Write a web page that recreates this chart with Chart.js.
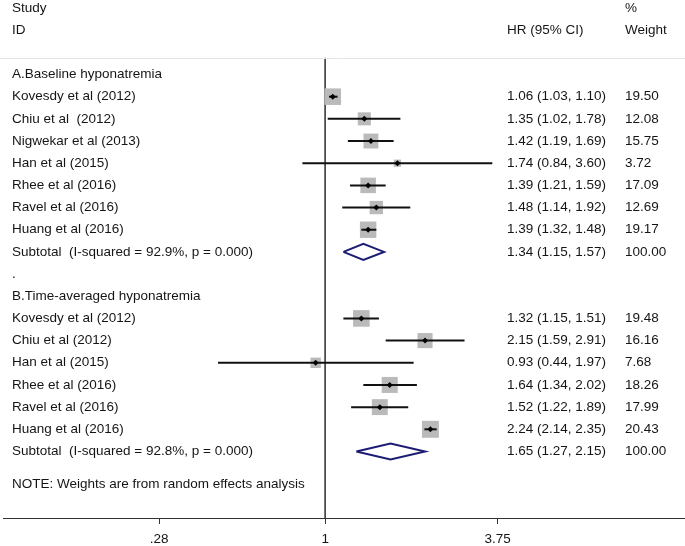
<!DOCTYPE html>
<html>
<head>
<meta charset="utf-8">
<script src="https://cdn.jsdelivr.net/npm/chart.js@4/dist/chart.umd.min.js"></script>
<style>
  html, body { margin: 0; padding: 0; background: #fff; }
  #wrap { width: 685px; height: 546px; }
</style>
</head>
<body>
<div id="wrap"><canvas id="forest"></canvas></div>
<script>
// Study labels, estimates and weights, one entry per row of the plot
const studyLabels = [
    'Kovesdy et al (2012)', 'Chiu et al  (2012)', 'Nigwekar et al (2013)', 'Han et al (2015)',
    'Rhee et al (2016)', 'Ravel et al (2016)', 'Huang et al (2016)',
    'Kovesdy et al (2012)', 'Chiu et al (2012)', 'Han et al (2015)',
    'Rhee et al (2016)', 'Ravel et al (2016)', 'Huang et al (2016)'
];
const studyRows = [4, 5, 6, 7, 8, 9, 10, 14, 15, 16, 17, 18, 19];
const hr = [1.06, 1.35, 1.42, 1.74, 1.39, 1.48, 1.39, 1.32, 2.15, 0.93, 1.64, 1.52, 2.24];
const lower = [1.03, 1.02, 1.19, 0.84, 1.21, 1.14, 1.32, 1.15, 1.59, 0.44, 1.34, 1.22, 2.14];
const upper = [1.10, 1.78, 1.69, 3.60, 1.59, 1.92, 1.48, 1.51, 2.91, 1.97, 2.02, 1.89, 2.35];
const weights = [19.50, 12.08, 15.75, 3.72, 17.09, 12.69, 19.17, 19.48, 16.16, 7.68, 18.26, 17.99, 20.43];

// Subtotals (pooled estimates)
const subtotalLabels = ['Subtotal  (I-squared = 92.9%, p = 0.000)', 'Subtotal  (I-squared = 92.8%, p = 0.000)'];
const subtotalRows = [11, 20];
const subHr = [1.34, 1.65];
const subLower = [1.15, 1.27];
const subUpper = [1.57, 2.15];
const subWeights = [100.00, 100.00];

// Group headings and other text rows
const groupLabels = ['A.Baseline hyponatremia', '.', 'B.Time-averaged hyponatremia', 'NOTE: Weights are from random effects analysis'];
const groupRows = [3, 12, 13, 21.5];

// x axis ticks
const tickValues = [0.28, 1, 3.75];
const tickLabels = ['.28', '1', '3.75'];

const FAMILY = '"Liberation Sans", Arial, sans-serif';
const FONT = '13.5px ' + FAMILY;
const TEXT = '#151515';

const fmt = v => v.toFixed(2);

// Weight-scaled grey boxes
const boxes = {
    type: 'scatter',
    order: 4,
    data: hr.map((v, i) => ({ x: v, y: studyRows[i] })),
    pointStyle: 'rect',
    pointRadius: weights.map(w => 3.75 * Math.sqrt(w) / Math.SQRT2),
    backgroundColor: '#bababa',
    borderWidth: 0,
    clip: false
};

// Confidence interval lines
const ciLines = lower.map((lo, i) => ({
    type: 'scatter',
    order: 3,
    data: [{ x: lo, y: studyRows[i] }, { x: upper[i], y: studyRows[i] }],
    showLine: true,
    borderColor: '#111',
    borderWidth: 2,
    pointRadius: 0,
    clip: false
}));

// Point estimates
const dots = {
    type: 'scatter',
    order: 2,
    data: hr.map((v, i) => ({ x: v, y: studyRows[i] })),
    pointStyle: 'rectRot',
    pointRadius: 3,
    backgroundColor: '#000',
    borderWidth: 0,
    clip: false
};

// Subtotal diamonds
const diamonds = subHr.map((v, i) => ({
    type: 'scatter',
    order: 1,
    data: [
        { x: subLower[i], y: subtotalRows[i] },
        { x: v, y: subtotalRows[i] - 0.36 },
        { x: subUpper[i], y: subtotalRows[i] },
        { x: v, y: subtotalRows[i] + 0.36 },
        { x: subLower[i], y: subtotalRows[i] }
    ],
    showLine: true,
    borderColor: '#1c1c74',
    borderWidth: 2,
    pointRadius: 0,
    clip: false
}));

// Reference line at HR = 1
const nullLine = {
    type: 'scatter',
    order: 5,
    data: [{ x: 1, y: 2.25 }, { x: 1, y: 23 }],
    showLine: true,
    borderColor: '#444',
    borderWidth: 1,
    pointRadius: 0,
    clip: false
};

// Text columns drawn on the canvas
const textColumns = {
    id: 'textColumns',
    afterDatasetsDraw(chart) {
        const ctx = chart.ctx;
        const y = chart.scales.y;
        ctx.save();
        // faint separator under the header
        const sep = Math.round(y.getPixelForValue(2.25)) + 0.5;
        ctx.strokeStyle = '#e4e4e4';
        ctx.lineWidth = 1;
        ctx.beginPath();
        ctx.moveTo(0, sep);
        ctx.lineTo(685, sep);
        ctx.stroke();

        ctx.font = FONT;
        ctx.fillStyle = TEXT;
        ctx.textBaseline = 'middle';
        ctx.textAlign = 'left';
        const put = (s, x, row) => ctx.fillText(s, x, y.getPixelForValue(row));

        put('Study', 12, 0);
        put('ID', 12, 1);
        put('%', 625, 0);
        put('HR (95% CI)', 507, 1);
        put('Weight', 625, 1);

        groupLabels.forEach((s, i) => put(s, 12, groupRows[i]));
        studyLabels.forEach((s, i) => {
            put(s, 12, studyRows[i]);
            put(fmt(hr[i]) + ' (' + fmt(lower[i]) + ', ' + fmt(upper[i]) + ')', 507, studyRows[i]);
            put(fmt(weights[i]), 625, studyRows[i]);
        });
        subtotalLabels.forEach((s, i) => {
            put(s, 12, subtotalRows[i]);
            put(fmt(subHr[i]) + ' (' + fmt(subLower[i]) + ', ' + fmt(subUpper[i]) + ')', 507, subtotalRows[i]);
            put(fmt(subWeights[i]), 625, subtotalRows[i]);
        });
        ctx.restore();
    }
};

const forestChart = document.getElementById('forest').getContext('2d');
const forestInstance = new Chart(forestChart, {
    type: 'scatter',
    data: {
        datasets: [nullLine, boxes, ...ciLines, dots, ...diamonds]
    },
    options: {
        responsive: true,
        maintainAspectRatio: false,
        animation: false,
        events: [],
        layout: { autoPadding: false, padding: { left: 3, right: 1, top: 0, bottom: 0 } },
        plugins: {
            legend: { display: false },
            tooltip: { enabled: false }
        },
        scales: {
            x: {
                type: 'logarithmic',
                min: 0.0847,
                max: 15.64,
                afterBuildTicks: scale => {
                    scale.ticks = tickValues.map(v => ({ value: v }));
                },
                afterFit: scale => {
                    scale.height = 28;
                    scale.paddingLeft = 0;
                    scale.paddingRight = 0;
                },
                ticks: {
                    autoSkip: false,
                    maxRotation: 0,
                    padding: 7,
                    color: TEXT,
                    font: { family: FAMILY, size: 13.5 },
                    callback: (v) => {
                        const k = tickValues.indexOf(v);
                        return k >= 0 ? tickLabels[k] : '';
                    }
                },
                grid: {
                    drawOnChartArea: false,
                    drawTicks: true,
                    tickLength: 6,
                    color: '#333'
                },
                border: { display: true, color: '#333', width: 1 }
            },
            y: {
                type: 'linear',
                display: false,
                reverse: true,
                min: -0.36,
                max: 23
            }
        }
    },
    plugins: [textColumns]
});
</script>
</body>
</html>
